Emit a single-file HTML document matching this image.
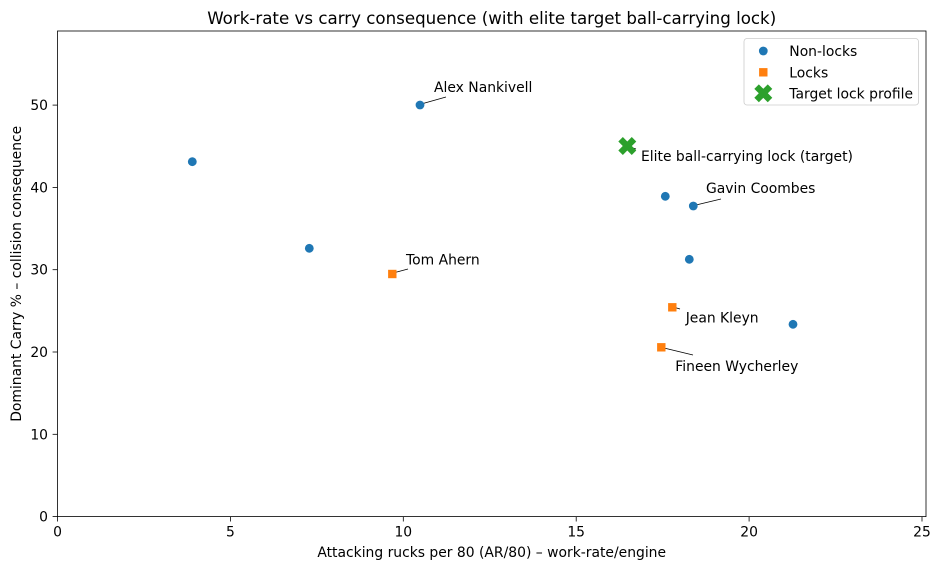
<!DOCTYPE html>
<html>
<head>
<meta charset="utf-8">
<style>
html,body{margin:0;padding:0;background:#fff;}
svg{display:block;}
text{font-family:"DejaVu Sans","Liberation Sans",sans-serif;fill:#000;}
</style>
</head>
<body>
<svg width="939" height="569" viewBox="0 0 939 569" xmlns="http://www.w3.org/2000/svg">
<rect x="0" y="0" width="939" height="569" fill="#fff"/>
<!-- title -->
<text x="491.7" y="24" font-size="16.67" text-anchor="middle">Work-rate vs carry consequence (with elite target ball-carrying lock)</text>

<!-- x ticks -->
<g stroke="#000" stroke-width="0.8">
<line x1="57.5" y1="516.6" x2="57.5" y2="521.5"/>
<line x1="230.4" y1="516.6" x2="230.4" y2="521.5"/>
<line x1="403.3" y1="516.6" x2="403.3" y2="521.5"/>
<line x1="576.2" y1="516.6" x2="576.2" y2="521.5"/>
<line x1="749.1" y1="516.6" x2="749.1" y2="521.5"/>
<line x1="922.0" y1="516.6" x2="922.0" y2="521.5"/>
<!-- y ticks -->
<line x1="52.6" y1="516.6" x2="57.5" y2="516.6"/>
<line x1="52.6" y1="434.3" x2="57.5" y2="434.3"/>
<line x1="52.6" y1="352.0" x2="57.5" y2="352.0"/>
<line x1="52.6" y1="269.7" x2="57.5" y2="269.7"/>
<line x1="52.6" y1="187.4" x2="57.5" y2="187.4"/>
<line x1="52.6" y1="105.1" x2="57.5" y2="105.1"/>
</g>
<g font-size="13.9" text-anchor="middle">
<text x="57.5" y="536.4">0</text>
<text x="230.4" y="536.4">5</text>
<text x="403.3" y="536.4">10</text>
<text x="576.2" y="536.4">15</text>
<text x="749.1" y="536.4">20</text>
<text x="922.0" y="536.4">25</text>
</g>
<g font-size="13.9" text-anchor="end">
<text x="48" y="521.6">0</text>
<text x="48" y="439.3">10</text>
<text x="48" y="357.0">20</text>
<text x="48" y="274.7">30</text>
<text x="48" y="192.4">40</text>
<text x="48" y="110.1">50</text>
</g>
<text x="491.7" y="557" font-size="13.9" text-anchor="middle">Attacking rucks per 80 (AR/80) – work-rate/engine</text>
<text transform="translate(21,273.8) rotate(-90)" font-size="13.9" text-anchor="middle">Dominant Carry % – collision consequence</text>

<!-- annotation lines -->
<g stroke="#000" stroke-width="0.8" fill="none">
<line x1="423" y1="103.5" x2="446" y2="97"/>
<line x1="395" y1="272.5" x2="408" y2="269"/>
<line x1="630" y1="147" x2="636" y2="149"/>
<line x1="696" y1="205" x2="721" y2="199"/>
<line x1="675" y1="307.5" x2="680" y2="309"/>
<line x1="664" y1="348" x2="693" y2="355"/>
</g>

<!-- non-locks -->
<g fill="#1f77b4">
<circle cx="192.3" cy="161.7" r="4.4"/>
<circle cx="309.3" cy="248.3" r="4.4"/>
<circle cx="420" cy="105" r="4.4"/>
<circle cx="665.3" cy="196.3" r="4.4"/>
<circle cx="693.3" cy="206" r="4.4"/>
<circle cx="689.3" cy="259.3" r="4.4"/>
<circle cx="793" cy="324.3" r="4.4"/>
</g>
<!-- locks -->
<g fill="#ff7f0e">
<rect x="388.1" y="269.8" width="8.4" height="8.4"/>
<rect x="668.1" y="303.1" width="8.4" height="8.4"/>
<rect x="657.1" y="343.1" width="8.4" height="8.4"/>
</g>
<!-- target -->
<polygon transform="translate(627.3,146) rotate(45)" fill="#2ca02c" points="3.2,9.5 3.2,3.2 9.5,3.2 9.5,-3.2 3.2,-3.2 3.2,-9.5 -3.2,-9.5 -3.2,-3.2 -9.5,-3.2 -9.5,3.2 -3.2,3.2 -3.2,9.5"/>

<!-- annotations text -->
<g font-size="13.9">
<text x="434" y="92">Alex Nankivell</text>
<text x="406" y="264.3">Tom Ahern</text>
<text x="641" y="161">Elite ball-carrying lock (target)</text>
<text x="706" y="193">Gavin Coombes</text>
<text x="685.7" y="322.3">Jean Kleyn</text>
<text x="675.3" y="371">Fineen Wycherley</text>
</g>

<!-- axes frame -->
<rect x="57.5" y="31" width="868.5" height="485.6" fill="none" stroke="#000" stroke-width="0.8"/>

<!-- legend -->
<rect x="744" y="38.5" width="174.5" height="66.5" rx="3" ry="3" fill="#fff" fill-opacity="0.8" stroke="#cccccc" stroke-width="0.8"/>
<circle cx="763.3" cy="51" r="4.4" fill="#1f77b4"/>
<rect x="759.1" y="68.1" width="8.4" height="8.4" fill="#ff7f0e"/>
<polygon transform="translate(763.3,93.3) rotate(45)" fill="#2ca02c" points="3.2,9.5 3.2,3.2 9.5,3.2 9.5,-3.2 3.2,-3.2 3.2,-9.5 -3.2,-9.5 -3.2,-3.2 -9.5,-3.2 -9.5,3.2 -3.2,3.2 -3.2,9.5"/>
<g font-size="13.9">
<text x="789.3" y="56">Non-locks</text>
<text x="789.3" y="77.3">Locks</text>
<text x="789.3" y="98.3">Target lock profile</text>
</g>
</svg>
</body>
</html>
